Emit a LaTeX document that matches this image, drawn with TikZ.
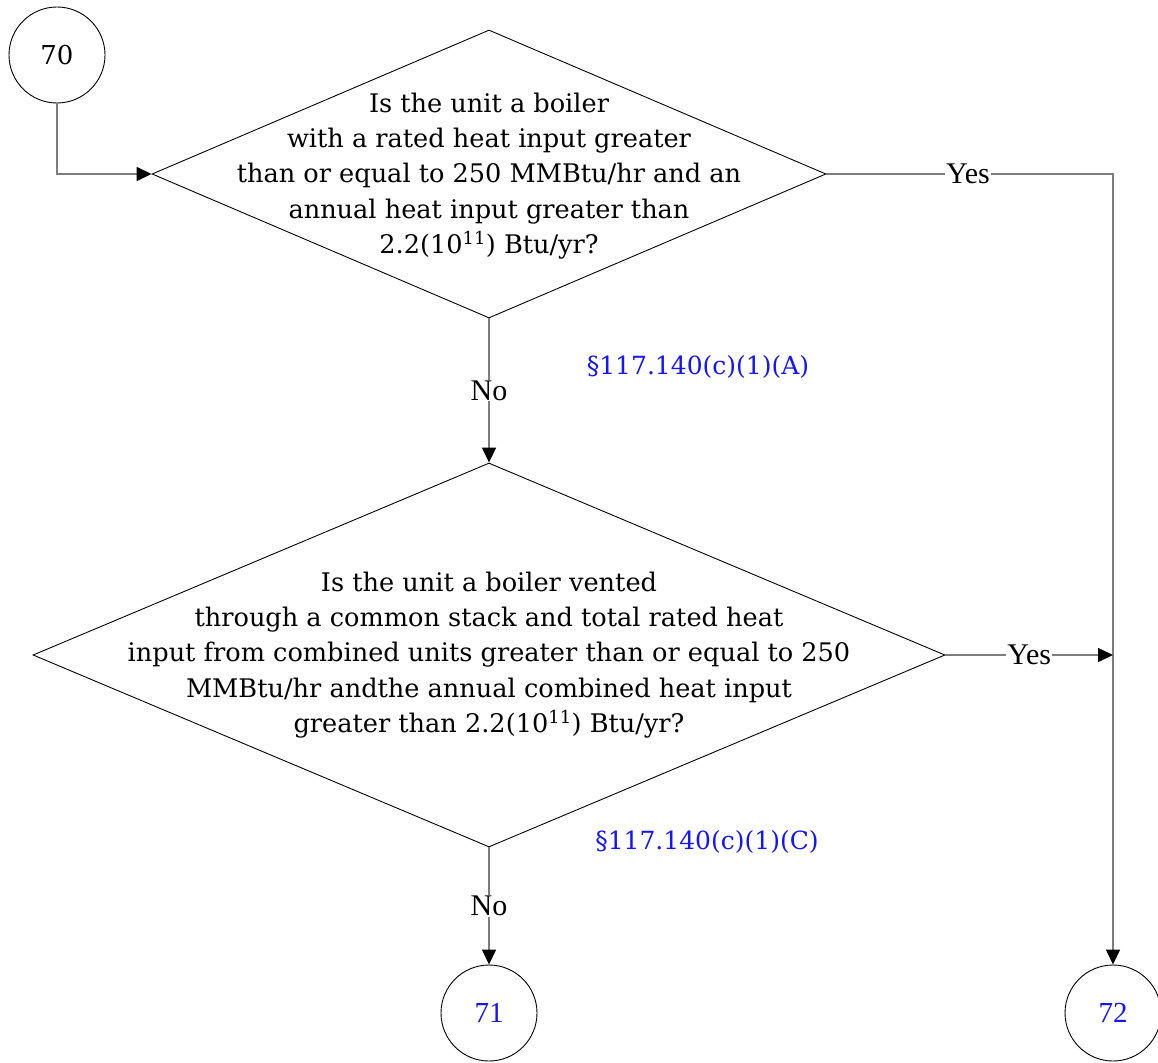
\documentclass[tikz,border=0pt]{standalone}
\usepackage{fontspec}
\setmainfont{DejaVu Serif}
\newfontfamily\tnr{Liberation Serif}
\usetikzlibrary{shapes.geometric,arrows.meta}
\definecolor{lnk}{RGB}{20,20,255}
\definecolor{conn}{RGB}{125,125,125}
\begin{document}
\begin{tikzpicture}[x=1pt,y=-1pt,
  txt/.style={font=\fontsize{25.6}{35.3}\selectfont, align=center},
  dec/.style={diamond, draw=black, line width=0.9pt, inner sep=0pt},
  conn/.style={circle, draw=black, line width=0.9pt, minimum size=96pt, inner sep=0pt},
  edge/.style={draw=conn, line width=1.5pt},
  arr/.style={edge, -{Triangle[length=15pt,width=14pt,color=black]}},
  lab/.style={fill=white, inner sep=1pt, font=\tnr\fontsize{30}{34}\selectfont},
  ref/.style={text=lnk, font=\fontsize{25}{30}\selectfont}]
\useasboundingbox (0,0) rectangle (1158,1062);
\node[conn, font=\fontsize{26}{30}\selectfont] (c70) at (57,55) {70};
\node[dec, minimum width=674pt, minimum height=288pt] (d1) at (489,174) {};
\node[txt] (t1) at (489,176) {Is the unit a boiler\\with a rated heat input greater\\than or equal to 250 MMBtu/hr and an\\annual heat input greater than\\2.2(10\textsuperscript{11}) Btu/yr?};
\node[dec, minimum width=912pt, minimum height=384pt] (d2) at (489,655) {};
\node[txt] (t2) at (489,655) {Is the unit a boiler vented\\through a common stack and total rated heat\\input from combined units greater than or equal to 250\\MMBtu/hr andthe annual combined heat input\\greater than 2.2(10\textsuperscript{11}) Btu/yr?};
\node[conn, text=lnk, font=\tnr\fontsize{29}{32}\selectfont] (c71) at (489,1013) {71};
\node[conn, text=lnk, font=\tnr\fontsize{29}{32}\selectfont] (c72) at (1113,1013) {72};
\node[ref] (r1) at (698,367) {§117.140(c)(1)(A)};
\node[ref] (r2) at (707,842) {§117.140(c)(1)(C)};
\coordinate (j2) at (1113,655);
\draw[arr] (c70.south) |- (d1.west);
\draw[arr] (d1.east) -| node[lab, pos=0.247] {Yes} (c72.north);
\draw[arr] (d2.east) -- node[lab] {Yes} (j2);
\draw[arr] (d1.south) -- node[lab] {No} (d2.north);
\draw[arr] (d2.south) -- node[lab] {No} (c71.north);
\end{tikzpicture}
\end{document}
